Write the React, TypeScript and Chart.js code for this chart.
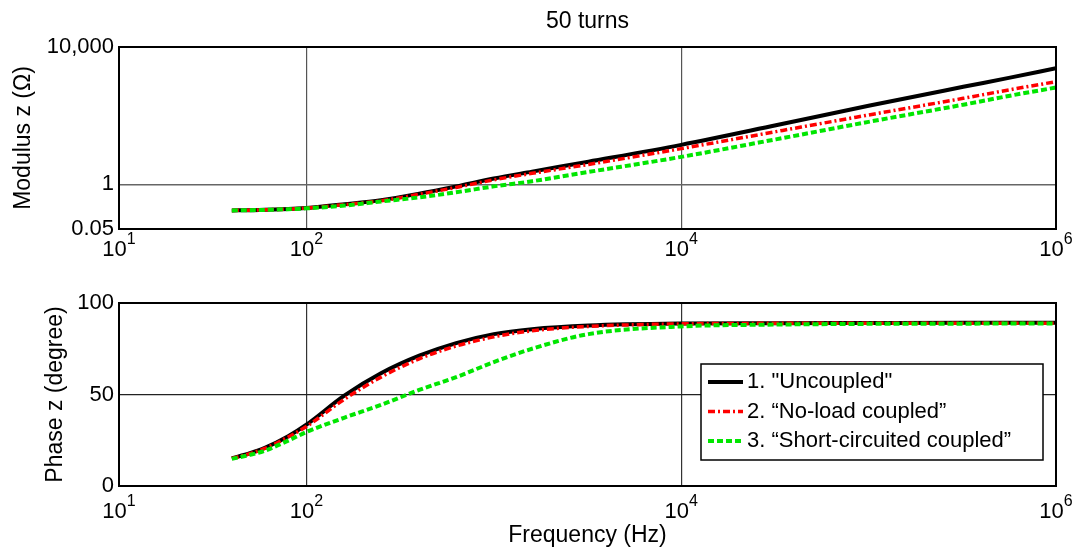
import React, { useEffect, useRef } from "react";
import { Chart, registerables } from "chart.js";

Chart.register(...registerables);

const FONT = 'Arial, "Liberation Sans", Helvetica, sans-serif';

// Frequency points (Hz)
const frequencies = [40, 50, 60, 80, 100, 160, 250, 400, 630, 1000, 1600, 3200, 10000, 32000, 100000, 320000, 560000, 1000000];

// Modulus |z| (Ohm)
const modulusUncoupled = [0.174, 0.176, 0.182, 0.19, 0.204, 0.263, 0.347, 0.537, 0.871, 1.479, 2.344, 4.571, 14.13, 52.48, 195.0, 691.8, 1259, 2399];
const modulusNoLoad = [0.174, 0.176, 0.182, 0.19, 0.204, 0.257, 0.331, 0.513, 0.813, 1.349, 2.089, 3.802, 10.96, 34.28, 104.7, 319.9, 562.3, 977.2];
const modulusShort = [0.174, 0.176, 0.18, 0.189, 0.2, 0.24, 0.316, 0.417, 0.589, 0.871, 1.23, 2.291, 6.31, 20.42, 66.07, 208.9, 375.8, 660.7];

// Phase z (degree)
const phaseUncoupled = [15.2, 17.9, 20.8, 27.2, 33.5, 49.5, 61.6, 71.2, 78.1, 83.0, 85.7, 87.7, 88.8, 89.0, 89.1, 89.2, 89.2, 89.2];
const phaseNoLoad = [15.0, 17.7, 20.5, 26.8, 32.5, 47.5, 59.5, 69.5, 76.5, 81.5, 84.8, 87.2, 88.6, 88.9, 89.0, 89.0, 89.0, 89.0];
const phaseShort = [14.8, 17.0, 19.3, 24.8, 29.5, 37.4, 44.3, 52.5, 59.5, 67.7, 75.0, 83.0, 87.2, 88.2, 88.6, 88.7, 88.8, 88.8];

const seriesLabels = ['1. "Uncoupled"', "2. \u201CNo-load coupled\u201D", "3. \u201CShort-circuited coupled\u201D"];

const xTickValues = [10, 100, 10000, 1000000];
const xTickBase = "10";
const xTickExponents = ["1", "2", "4", "6"];
const modTickValues = [0.05, 1, 10000];
const modTickLabels = ["0.05", "1", "10,000"];
const phaseTickValues = [0, 50, 100];
const phaseTickLabels = ["0", "50", "100"];

const chartTitle = "50 turns";
const modulusTitle = "Modulus z (\u03A9)";
const phaseTitle = "Phase z (degree)";
const freqTitle = "Frequency (Hz)";

const lineStyles = [
  { color: "#000000", width: 4, dash: [] as number[], order: 3 },
  { color: "#ff0000", width: 3.5, dash: [7, 3, 2, 3], order: 2 },
  { color: "#00e600", width: 4, dash: [6, 3], order: 1 },
];

function makeDatasets(series: number[][]) {
  return series.map((vals, i) => ({
    label: seriesLabels[i],
    data: frequencies.map((f, k) => ({ x: f, y: vals[k] })),
    borderColor: lineStyles[i].color,
    backgroundColor: lineStyles[i].color,
    borderWidth: lineStyles[i].width,
    borderDash: lineStyles[i].dash,
    order: lineStyles[i].order,
    pointRadius: 0,
    fill: false,
    cubicInterpolationMode: "monotone" as const,
  }));
}

const framePlugin = {
  id: "frameBox",
  afterDraw(chart: any) {
    const { ctx, chartArea: a } = chart;
    ctx.save();
    ctx.strokeStyle = "#000";
    ctx.lineWidth = 2;
    ctx.strokeRect(a.left, a.top, a.right - a.left, a.bottom - a.top);
    ctx.restore();
  },
};

// draws "10" with a raised exponent under each x tick
function makeExpTickPlugin(digitsBaseline: number, expBaseline: number) {
  return {
    id: "expTicks",
    afterDraw(chart: any) {
      const { ctx, chartArea: a } = chart;
      const sx = chart.scales.x;
      ctx.save();
      ctx.fillStyle = "#000";
      ctx.textBaseline = "alphabetic";
      ctx.textAlign = "left";
      xTickValues.forEach((v, i) => {
        const px = sx.getPixelForValue(v);
        ctx.font = `22px ${FONT}`;
        const wb = ctx.measureText(xTickBase).width;
        ctx.font = `16px ${FONT}`;
        const we = ctx.measureText(xTickExponents[i]).width;
        const start = px - (wb + we) / 2;
        ctx.font = `22px ${FONT}`;
        ctx.fillText(xTickBase, start, a.bottom + digitsBaseline);
        ctx.font = `16px ${FONT}`;
        ctx.fillText(xTickExponents[i], start + wb, a.bottom + expBaseline);
      });
      ctx.restore();
    },
  };
}

const legendPlugin = {
  id: "insideLegend",
  afterDraw(chart: any) {
    const { ctx, chartArea: a } = chart;
    const w = 342;
    const h = 96;
    const right = a.right - 13;
    const bottom = a.bottom - 26;
    const left = right - w;
    const top = bottom - h;
    ctx.save();
    ctx.fillStyle = "#fff";
    ctx.fillRect(left, top, w, h);
    ctx.strokeStyle = "#000";
    ctx.lineWidth = 1.5;
    ctx.strokeRect(left, top, w, h);
    const rows = [18, 47.5, 77];
    ctx.font = `22px ${FONT}`;
    ctx.textBaseline = "middle";
    ctx.textAlign = "left";
    rows.forEach((dy, i) => {
      const y = top + dy;
      ctx.beginPath();
      ctx.strokeStyle = lineStyles[i].color;
      ctx.lineWidth = lineStyles[i].width;
      ctx.setLineDash(lineStyles[i].dash);
      ctx.moveTo(left + 7, y);
      ctx.lineTo(left + 42, y);
      ctx.stroke();
      ctx.setLineDash([]);
      ctx.fillStyle = "#000";
      ctx.fillText(seriesLabels[i], left + 46, y);
    });
    ctx.restore();
  },
};

function labelFrom(values: number[], labels: string[]) {
  return (v: any) => {
    const idx = values.findIndex((t) => Math.abs(t - Number(v)) < 1e-9 * Math.max(1, Math.abs(t)));
    return idx >= 0 ? labels[idx] : "";
  };
}

function fixedTicks(values: number[]) {
  return (scale: any) => {
    scale.ticks = values.map((v) => ({ value: v }));
  };
}

export default function App() {
  const topRef = useRef<HTMLCanvasElement>(null);
  const botRef = useRef<HTMLCanvasElement>(null);

  useEffect(() => {
    const tickFont = { family: FONT, size: 22 };
    const titleFont = { family: FONT, size: 23 };

    const xScaleBase = (height: number) => ({
      type: "logarithmic",
      min: 10,
      max: 1000000,
      afterBuildTicks: fixedTicks(xTickValues),
      afterFit: (s: any) => {
        s.height = height;
      },
      ticks: {
        callback: () => "",
        padding: 0,
        maxRotation: 0,
        autoSkip: false,
      },
      border: { display: false },
    });

    const topChart = new Chart(topRef.current!, {
      type: "line",
      data: { datasets: makeDatasets([modulusUncoupled, modulusNoLoad, modulusShort]) as any },
      options: {
        responsive: false,
        animation: false,
        devicePixelRatio: 1,
        layout: { padding: { left: 0, right: 22, top: 0, bottom: 0 } },
        plugins: {
          legend: { display: false },
          tooltip: { enabled: false },
          title: {
            display: true,
            text: chartTitle,
            fullSize: false,
            color: "#000",
            font: { family: FONT, size: 23, weight: "normal" },
            padding: { top: 8, bottom: 11.4 },
          },
        },
        scales: {
          x: {
            ...xScaleBase(36),
            grid: { color: "#555", lineWidth: 1.2, drawTicks: false },
          },
          y: {
            type: "logarithmic",
            min: 0.05,
            max: 10000,
            afterBuildTicks: fixedTicks(modTickValues),
            afterFit: (s: any) => {
              s.width = 119;
            },
            ticks: {
              callback: labelFrom(modTickValues, modTickLabels),
              color: "#000",
              font: tickFont,
              padding: 5,
              autoSkip: false,
            },
            grid: { color: "#666", lineWidth: 1.5, drawTicks: false },
            border: { display: false },
            title: {
              display: true,
              text: modulusTitle,
              color: "#000",
              font: titleFont,
              padding: { top: 10, bottom: 0 },
            },
          },
        },
      },
      plugins: [framePlugin, makeExpTickPlugin(27, 15)],
    } as any);

    const botChart = new Chart(botRef.current!, {
      type: "line",
      data: { datasets: makeDatasets([phaseUncoupled, phaseNoLoad, phaseShort]) as any },
      options: {
        responsive: false,
        animation: false,
        devicePixelRatio: 1,
        layout: { padding: { left: 0, right: 22, top: 38, bottom: 0 } },
        plugins: {
          legend: { display: false },
          tooltip: { enabled: false },
          title: { display: false },
        },
        scales: {
          x: {
            ...xScaleBase(65),
            grid: { color: "#333", lineWidth: 1.2, drawTicks: false },
            title: {
              display: true,
              text: freqTitle,
              color: "#000",
              font: titleFont,
              padding: { top: 0, bottom: 2 },
            },
          },
          y: {
            type: "linear",
            min: 0,
            max: 100,
            afterBuildTicks: fixedTicks(phaseTickValues),
            afterFit: (s: any) => {
              s.width = 119;
            },
            ticks: {
              callback: labelFrom(phaseTickValues, phaseTickLabels),
              color: "#000",
              font: tickFont,
              padding: 5,
              autoSkip: false,
            },
            grid: { color: "#222", lineWidth: 1.2, drawTicks: false },
            border: { display: false },
            title: {
              display: true,
              text: phaseTitle,
              color: "#000",
              font: titleFont,
              padding: { top: 42, bottom: 0 },
            },
          },
        },
      },
      plugins: [framePlugin, legendPlugin, makeExpTickPlugin(32, 19.5)],
    } as any);

    return () => {
      topChart.destroy();
      botChart.destroy();
    };
  }, []);

  return (
    <div style={{ position: "absolute", left: 0, top: 0, width: 1078, height: 551, background: "#fff" }}>
      <canvas ref={topRef} width={1078} height={265} style={{ position: "absolute", left: 0, top: 0, display: "block" }} />
      <canvas ref={botRef} width={1078} height={286} style={{ position: "absolute", left: 0, top: 265, display: "block" }} />
    </div>
  );
}
